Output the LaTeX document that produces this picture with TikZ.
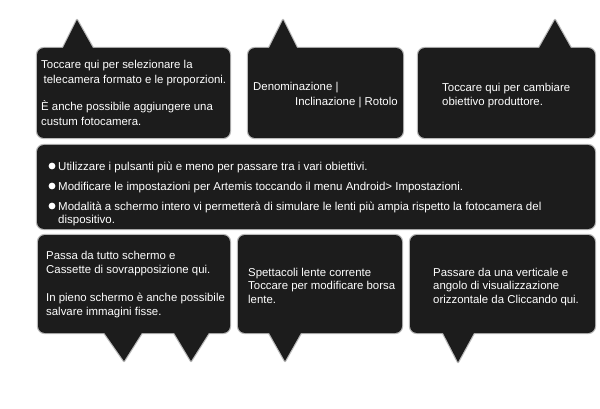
\documentclass[tikz,border=0pt]{standalone}
\usepackage{fontspec}
\setmainfont{Liberation Sans}
\definecolor{boxfill}{HTML}{1C1C1C}
\begin{document}
\begin{tikzpicture}[x=1pt,y=-1pt,
  rim/.style={draw=gray!55, line width=2.4pt, line join=round},
  body/.style={fill=boxfill},
  txt/.style={text=white, inner sep=0pt, anchor=base west, align=left,
    font=\fontsize{11.4}{14.5}\selectfont},
  txtb/.style={txt, font=\fontsize{11.4}{13.7}\selectfont},
  txtm/.style={txt, font=\fontsize{11.5}{13.5}\selectfont},
  dot/.style={fill=white, draw=none}]
\useasboundingbox[fill=white] (0,0) rectangle (600,409);
% ---- rims ----
\path[rim, rounded corners=7] (37,48) rectangle (230,138);
\path[rim] (62,50) -- (77,20) -- (94,50);
\path[rim, rounded corners=7] (248,48) rectangle (403,138);
\path[rim] (268,50) -- (283,20) -- (298,50);
\path[rim, rounded corners=7] (418,48) rectangle (595,138);
\path[rim] (538,50) -- (555,20) -- (572,50);
\path[rim, rounded corners=7] (37,145) rectangle (595,229);
\path[rim, rounded corners=7] (38,235) rectangle (230,333);
\path[rim] (103,331) -- (124,361) -- (143,331);
\path[rim] (173,331) -- (191,361) -- (210,331);
\path[rim, rounded corners=7] (238,235) rectangle (402,333);
\path[rim] (268,331) -- (285,361) -- (302,331);
\path[rim, rounded corners=7] (410,235) rectangle (595,333);
\path[rim] (442,331) -- (458,362) -- (475,331);
% ---- bodies ----
\path[body, rounded corners=7] (37,48) rectangle (230,138);
\path[body] (62,50) -- (77,20) -- (94,50) -- cycle;
\path[body, rounded corners=7] (248,48) rectangle (403,138);
\path[body] (268,50) -- (283,20) -- (298,50) -- cycle;
\path[body, rounded corners=7] (418,48) rectangle (595,138);
\path[body] (538,50) -- (555,20) -- (572,50) -- cycle;
\path[body, rounded corners=7] (37,145) rectangle (595,229);
\path[body, rounded corners=7] (38,235) rectangle (230,333);
\path[body] (103,331) -- (124,361) -- (143,331) -- cycle;
\path[body] (173,331) -- (191,361) -- (210,331) -- cycle;
\path[body, rounded corners=7] (238,235) rectangle (402,333);
\path[body] (268,331) -- (285,361) -- (302,331) -- cycle;
\path[body, rounded corners=7] (410,235) rectangle (595,333);
\path[body] (442,331) -- (458,362) -- (475,331) -- cycle;
% ---- texts (base anchor = last line) ----
\node[txt] (t1a) at (41,83.5) {Toccare qui per selezionare la\\\hspace{2.5pt}telecamera formato e le proporzioni.};
\node[txt] (t1b) at (41,125.5) {È anche possibile aggiungere una\\custum fotocamera.};
\node[txt] (t2a) at (253,91) {Denominazione |};
\node[txt] (t2b) at (295,106) {Inclinazione | Rotolo};
\node[txtb] (t3) at (442,105.7) {Toccare qui per cambiare\\obiettivo produttore.};
\path[dot] (52,166) circle (3.4);
\path[dot] (52,186) circle (3.4);
\path[dot] (52,206) circle (3.4);
\node[txtm] (m1) at (58,170.2) {Utilizzare i pulsanti più e meno per passare tra i vari obiettivi.};
\node[txtm] (m2) at (58,190.2) {Modificare le impostazioni per Artemis toccando il menu Android> Impostazioni.};
\node[txtm] (m3) at (58,223.7) {Modalità a schermo intero vi permetterà di simulare le lenti più ampia rispetto la fotocamera del\\dispositivo.};
\node[txt] (t4a) at (46,273.5) {Passa da tutto schermo e\\Cassette di sovrapposizione qui.};
\node[txt] (t4b) at (46,315.5) {In pieno schermo è anche possibile\\salvare immagini fisse.};
\node[txtb] (t5) at (248,303.4) {Spettacoli lente corrente\\Toccare per modificare borsa\\lente.};
\node[txtb] (t6) at (433,303.4) {Passare da una verticale e\\angolo di visualizzazione\\orizzontale da Cliccando qui.};
\end{tikzpicture}
\end{document}
